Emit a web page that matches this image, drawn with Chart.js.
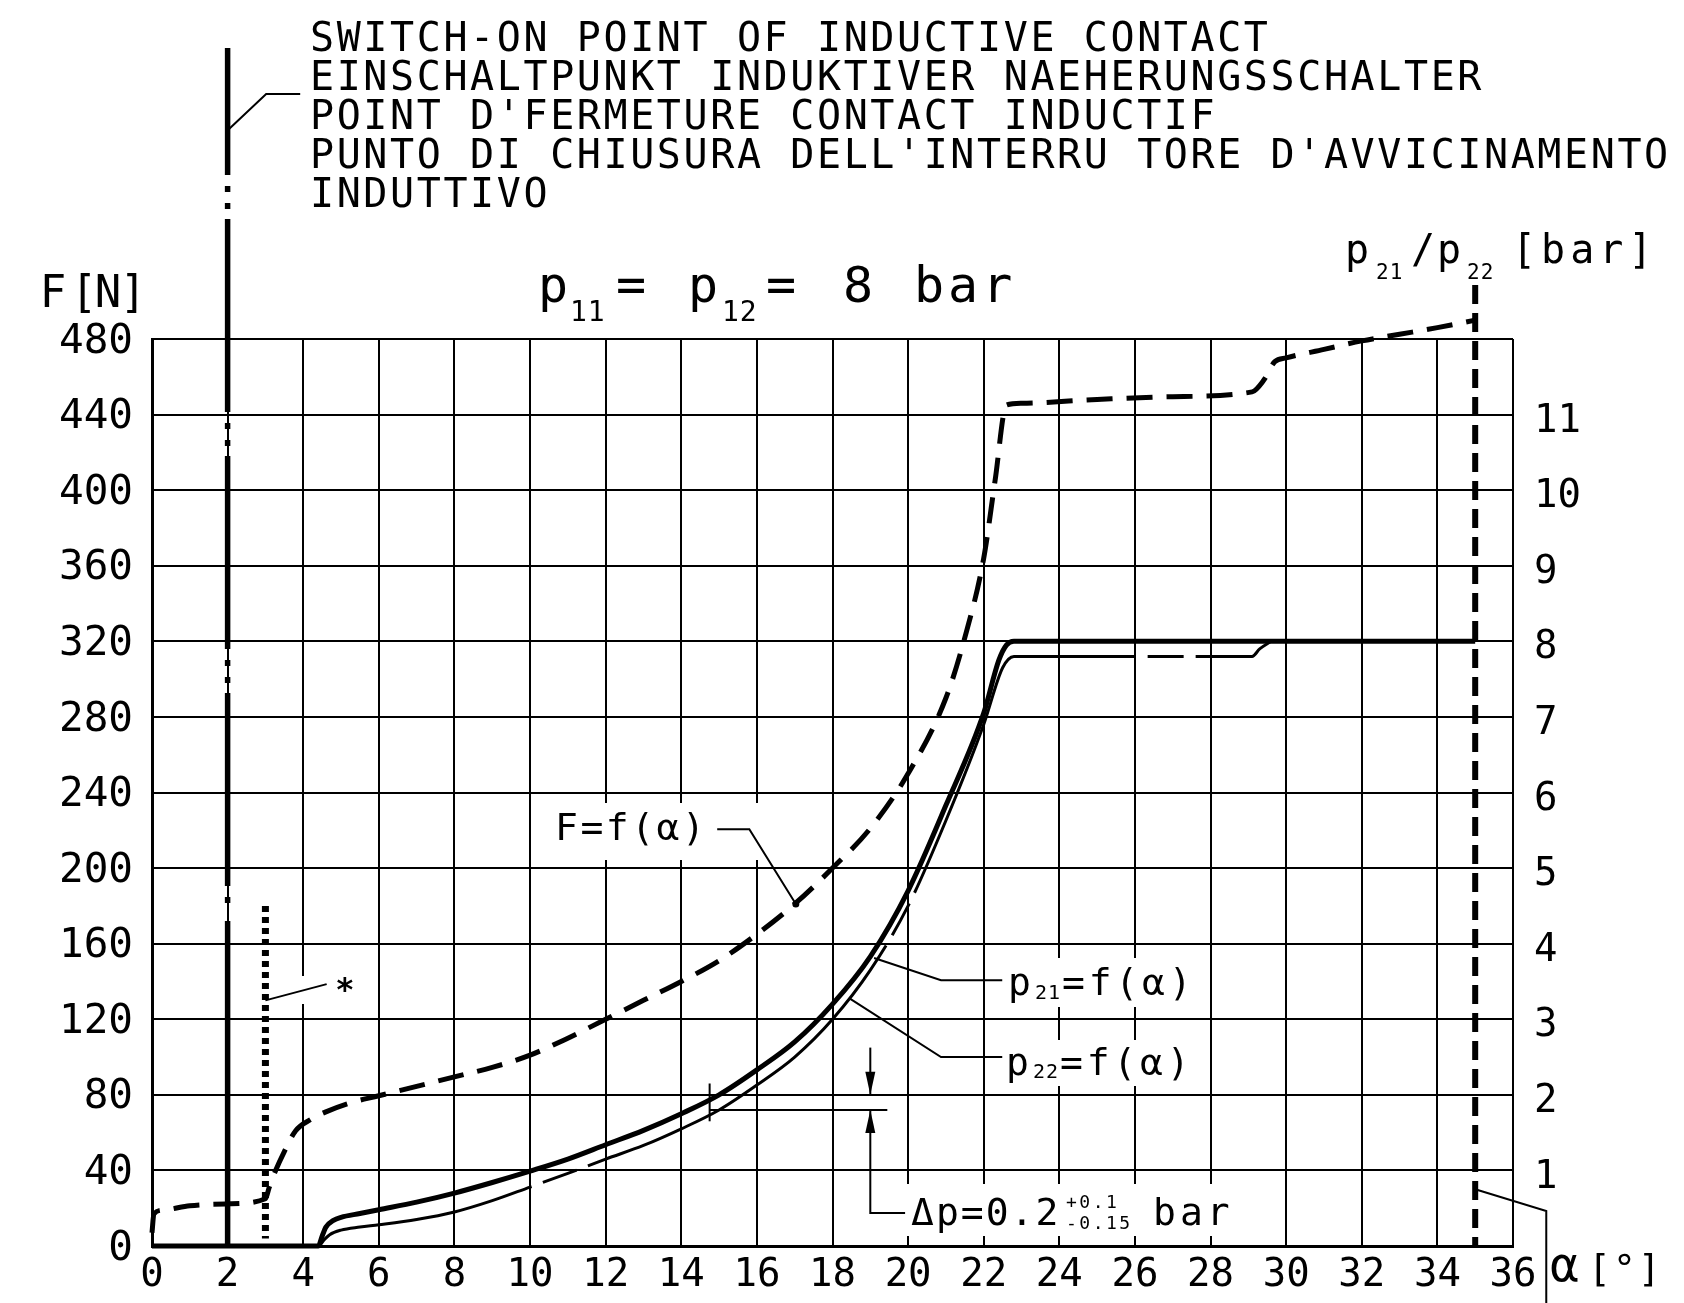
<!DOCTYPE html>
<html>
<head>
<meta charset="utf-8">
<title>F, p21, p22 = f(alpha)</title>
<script src="https://cdn.jsdelivr.net/npm/chart.js@4.4.1/dist/chart.umd.min.js"></script>
<style>
    html, body { margin: 0; padding: 0; background: #fff; }
    #wrap { width: 1684px; height: 1303px; }
</style>
</head>
<body>
<div id="wrap"><canvas id="chart"></canvas></div>
<script>
// axis ticks
const alphaTicks = [0, 2, 4, 6, 8, 10, 12, 14, 16, 18, 20, 22, 24, 26, 28, 30, 32, 34, 36];
const forceTicks = [0, 40, 80, 120, 160, 200, 240, 280, 320, 360, 400, 440, 480];
const pressureTicks = [1, 2, 3, 4, 5, 6, 7, 8, 9, 10, 11];

// F = f(alpha) [N]
const alphaF = [0, 0.05, 0.3, 1, 2, 3, 3.1, 3.25, 3.5, 3.8, 4.2, 4.6, 5.2, 6, 7, 8, 9, 10, 11, 12, 13, 14, 15, 16, 17, 18, 19, 20, 21, 21.5, 22, 22.3, 22.6, 23, 25, 27, 29.1, 29.4, 29.7, 30, 31, 32, 33, 34, 35];
const forceF = [7, 17, 19, 21.3, 22.3, 25, 31, 39, 50, 61, 67, 71, 75.5, 79.5, 84.5, 89.5, 94.5, 101, 110, 120, 130, 140, 151, 165, 181, 200, 221, 250, 290, 322, 364, 405, 445, 446, 448, 449.5, 452, 458, 468, 470, 474.5, 479, 482.5, 486, 490];

// p21 = f(alpha) [bar]
const alphaP21 = [0, 4.4, 4.5, 4.6, 4.8, 5, 5.5, 6, 7, 8, 9, 10, 11, 12, 13, 14, 15, 16, 17, 18, 19, 20, 21, 22, 22.4, 22.6, 22.8, 35];
const p21Bar = [0, 0, 0.13, 0.25, 0.34, 0.38, 0.43, 0.48, 0.58, 0.7, 0.84, 0.99, 1.15, 1.34, 1.53, 1.75, 2.0, 2.33, 2.7, 3.2, 3.83, 4.7, 5.83, 7.05, 7.75, 7.95, 8.0, 8.0];

// p22 = f(alpha) [bar]
const alphaP22 = [0, 4.4, 4.55, 4.7, 5, 5.5, 6, 7, 8, 9, 10, 11, 12, 13, 14, 15, 16, 17, 18, 19, 20, 21, 22, 22.5, 22.8, 29.1, 29.3, 29.6];
const p22Bar = [0, 0, 0.08, 0.15, 0.21, 0.25, 0.28, 0.35, 0.45, 0.6, 0.78, 0.96, 1.15, 1.33, 1.55, 1.8, 2.13, 2.5, 3.0, 3.65, 4.5, 5.63, 6.9, 7.65, 7.8, 7.8, 7.9, 8.0];

const switchOnAlpha = 2;
const markerAlpha = 3;
const markerForce = 180;
const endAlpha = 35;

const FONT = '"DejaVu Sans Mono", "Liberation Mono", monospace';

function toPoints(xs, ys) {
    return xs.map((x, i) => ({ x: x, y: ys[i] }));
}

function line(ctx, pts, width, dash, offset) {
    ctx.save();
    ctx.beginPath();
    ctx.strokeStyle = '#000';
    ctx.lineWidth = width;
    ctx.setLineDash(dash || []);
    ctx.lineDashOffset = offset || 0;
    pts.forEach((p, i) => i ? ctx.lineTo(p[0], p[1]) : ctx.moveTo(p[0], p[1]));
    ctx.stroke();
    ctx.restore();
}

function text(ctx, str, x, y, size, ls, align) {
    ctx.save();
    ctx.font = size + 'px ' + FONT;
    ctx.letterSpacing = (ls || 0) + 'px';
    ctx.fillStyle = '#000';
    ctx.textAlign = align || 'left';
    ctx.textBaseline = 'alphabetic';
    ctx.fillText(str, x, y);
    ctx.restore();
}

function arrow(ctx, x, tipY, dir) {
    // dir = 1 points down, -1 points up
    ctx.save();
    ctx.fillStyle = '#000';
    ctx.beginPath();
    ctx.moveTo(x, tipY);
    ctx.lineTo(x - 5, tipY - dir * 23);
    ctx.lineTo(x + 5, tipY - dir * 23);
    ctx.closePath();
    ctx.fill();
    ctx.restore();
}

const annotations = {
    id: 'annotations',
    beforeDatasetsDraw(chart) {
        // white fields behind labels break the grid
        const ctx = chart.ctx;
        ctx.save();
        ctx.fillStyle = '#fff';
        [[548, 803, 220, 57], [1000, 958, 196, 49], [998, 1040, 196, 46], [895, 1184, 337, 52], [294, 976, 68, 28]]
            .forEach(r => ctx.fillRect(r[0], r[1], r[2], r[3]));
        ctx.restore();
    },
    afterDatasetsDraw(chart) {
        const ctx = chart.ctx;
        const xs = chart.scales.x, ys = chart.scales.y;
        const px = v => xs.getPixelForValue(v);
        const py = v => ys.getPixelForValue(v);

        // reference lines
        line(ctx, [[px(switchOnAlpha), 48], [px(switchOnAlpha), 910]], 5.5, [193, 11, 6, 11, 6, 10], 66);
        line(ctx, [[px(switchOnAlpha), 921], [px(switchOnAlpha), py(0)]], 5.5);
        line(ctx, [[px(markerAlpha), py(markerForce)], [px(markerAlpha), py(4)]], 7, [6, 5]);
        line(ctx, [[px(endAlpha), 285], [px(endAlpha), py(0)]], 6, [19, 9]);

        // leaders
        line(ctx, [[px(2.01), 130], [px(3.02), 94], [px(3.92), 94]], 2);
        line(ctx, [[px(14.95), py(220.6)], [px(15.8), py(220.6)], [px(17.03), py(181)]], 2);
        ctx.beginPath();
        ctx.arc(px(17.03), py(181), 3.5, 0, Math.PI * 2);
        ctx.fill();
        line(ctx, [[px(19.1), py(152.4)], [px(20.87), py(140.7)], [px(22.49), py(140.7)]], 2);
        line(ctx, [[px(18.44), py(131.2)], [px(20.87), py(100)], [px(22.49), py(100)]], 2);
        line(ctx, [[px(3.0), py(130)], [px(4.62), py(138.6)]], 2);
        line(ctx, [[px(endAlpha), py(30)], [px(36.88), py(18.5)], [px(36.88), 1310]], 2);

        // delta p dimension
        line(ctx, [[px(19), py(105)], [px(19), py(80)]], 2);
        arrow(ctx, px(19), py(80), 1);
        line(ctx, [[px(14.75), py(72)], [px(19.45), py(72)]], 2);
        line(ctx, [[px(14.75), py(66)], [px(14.75), py(86)]], 2);
        line(ctx, [[px(19), py(72)], [px(19), py(17.5)], [px(19.92), py(17.5)]], 2);
        arrow(ctx, px(19), py(72), -1);
    },
    afterDraw(chart) {
        const ctx = chart.ctx;

        // header text
        const head = [
            'SWITCH-ON POINT OF INDUCTIVE CONTACT',
            'EINSCHALTPUNKT INDUKTIVER NAEHERUNGSSCHALTER',
            "POINT D'FERMETURE CONTACT INDUCTIF",
            "PUNTO DI CHIUSURA DELL'INTERRU TORE D'AVVICINAMENTO",
            'INDUTTIVO'
        ];
        head.forEach((s, i) => text(ctx, s, 310, 51 + i * 39, 40, 2.6));

        // p11 = p12 = 8 bar
        text(ctx, 'p', 538, 302, 50);
        text(ctx, '11', 570, 321, 28, 1);
        text(ctx, '=', 616, 302, 50);
        text(ctx, 'p', 688, 302, 50);
        text(ctx, '12', 722, 321, 28, 1);
        text(ctx, '=', 766, 302, 50);
        text(ctx, '8', 843, 302, 50);
        text(ctx, 'bar', 914, 302, 50, 4);

        // axis titles
        text(ctx, 'F', 53, 307, 44, 0, 'center');
        text(ctx, '[', 84, 307, 44, 0, 'center');
        text(ctx, 'N', 108, 307, 44, 0, 'center');
        text(ctx, ']', 133, 307, 44, 0, 'center');

        text(ctx, 'p', 1345, 263, 40);
        text(ctx, '21', 1376, 279, 21, 1);
        text(ctx, '/', 1411, 263, 40);
        text(ctx, 'p', 1437, 263, 40);
        text(ctx, '22', 1467, 279, 21, 1);
        text(ctx, '[bar]', 1512, 263, 40, 5);

        text(ctx, 'α', 1550, 1281, 48);
        text(ctx, '[°]', 1588, 1281, 38, 2);

        // curve labels
        text(ctx, 'F=f(α)', 555, 840, 38, 2.5);
        text(ctx, 'p', 1008, 995, 38);
        text(ctx, '21', 1035, 999, 20, 1);
        text(ctx, '=f(α)', 1062, 995, 38, 3.8);
        text(ctx, 'p', 1006, 1075, 38);
        text(ctx, '22', 1033, 1078, 20, 1);
        text(ctx, '=f(α)', 1060, 1075, 38, 3.8);

        text(ctx, 'Δp=0.2', 911, 1225, 38, 2);
        text(ctx, '+0.1', 1066, 1208, 18, 2.5);
        text(ctx, '-0.15', 1066, 1229, 18, 2.5);
        text(ctx, 'bar', 1153, 1225, 38, 4);

        ctx.save();
        ctx.font = 'bold 32px ' + FONT;
        ctx.textAlign = 'center';
        ctx.fillText('*', 345, 1000);
        ctx.restore();
    }
};

const tickFont = (size) => ({ family: FONT, size: size });

new Chart(document.getElementById('chart'), {
    type: 'line',
    data: {
        datasets: [
            {
                label: 'F = f(α)',
                data: toPoints(alphaF, forceF),
                yAxisID: 'y',
                borderColor: '#000',
                borderWidth: 5,
                borderDash: [26, 14],
                pointRadius: 0,
                cubicInterpolationMode: 'monotone',
                clip: false
            },
            {
                label: 'p21 = f(α)',
                data: toPoints(alphaP21, p21Bar),
                yAxisID: 'y2',
                borderColor: '#000',
                borderWidth: 5,
                pointRadius: 0,
                cubicInterpolationMode: 'monotone',
                clip: false
            },
            {
                label: 'p22 = f(α)',
                data: toPoints(alphaP22, p22Bar),
                yAxisID: 'y2',
                borderColor: '#000',
                borderWidth: 3,
                borderDash: [380, 12, 36, 12],
                borderDashOffset: -11,
                pointRadius: 0,
                cubicInterpolationMode: 'monotone',
                clip: false
            }
        ]
    },
    options: {
        responsive: true,
        maintainAspectRatio: false,
        animation: false,
        devicePixelRatio: 1,
        layout: { padding: { top: 339, left: 0, right: 0, bottom: 0 } },
        plugins: {
            legend: { display: false },
            tooltip: { enabled: false }
        },
        scales: {
            x: {
                type: 'linear',
                min: 0,
                max: 36,
                afterBuildTicks: (s) => { s.ticks = alphaTicks.map(v => ({ value: v })); },
                afterFit: (s) => { s.height = 57; },
                grid: { color: '#000', lineWidth: 2, drawTicks: false },
                border: { color: '#000', width: 3 },
                ticks: { color: '#000', font: tickFont(39), padding: 6, maxRotation: 0, autoSkip: false }
            },
            y: {
                position: 'left',
                min: 0,
                max: 480,
                afterBuildTicks: (s) => { s.ticks = forceTicks.map(v => ({ value: v })); },
                afterFit: (s) => { s.width = 152; },
                grid: { color: '#000', lineWidth: 2, drawTicks: false },
                border: { color: '#000', width: 3 },
                ticks: { color: '#000', font: tickFont(41), padding: 19, labelOffset: 3, autoSkip: false }
            },
            y2: {
                position: 'right',
                min: 0,
                max: 12,
                afterBuildTicks: (s) => { s.ticks = pressureTicks.map(v => ({ value: v })); },
                afterFit: (s) => { s.width = 171; },
                grid: { display: false, drawTicks: false },
                border: { display: false },
                ticks: { color: '#000', font: tickFont(39), padding: 21, labelOffset: 7, autoSkip: false }
            }
        }
    },
    plugins: [annotations]
});
</script>
</body>
</html>
